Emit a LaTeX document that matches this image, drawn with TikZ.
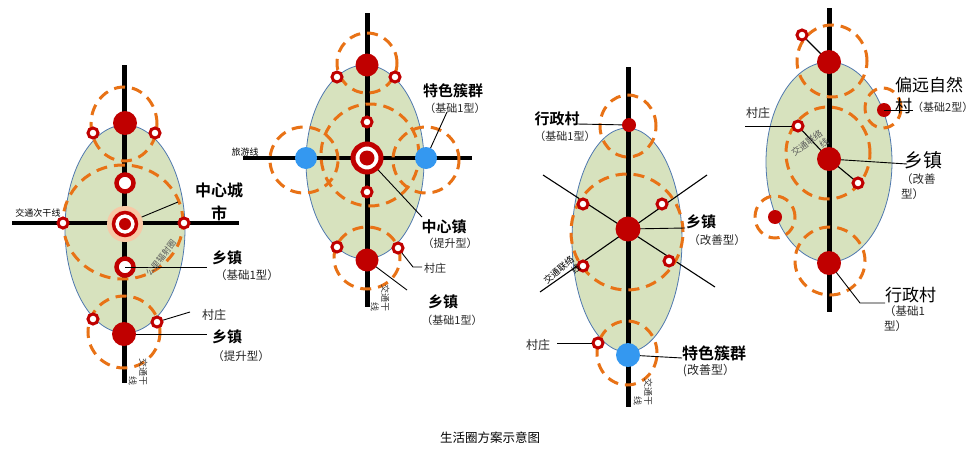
\documentclass[tikz,border=0pt]{standalone}
\usepackage{fontspec}
\setmainfont{Noto Sans CJK SC}[BoldFont={Noto Sans CJK SC Bold}]
\definecolor{cred}{RGB}{192,0,0}
\definecolor{corange}{RGB}{232,114,22}
\definecolor{cgreen}{RGB}{215,226,190}
\definecolor{cedge}{RGB}{79,120,175}
\definecolor{cblue}{RGB}{52,152,240}
\definecolor{chalo}{RGB}{248,200,165}
\definecolor{cgray}{RGB}{90,90,90}
\pgfdeclarelayer{bg}
\pgfdeclarelayer{mid}
\pgfsetlayers{bg,mid,main}
\tikzset{
  dotbig/.style={circle, fill=cred, inner sep=0pt, minimum size=24pt},
  dotsmall/.style={circle, fill=cred, inner sep=0pt, minimum size=14pt},
  ringsmall/.style={circle, draw=cred, fill=white, line width=3pt, inner sep=0pt, minimum size=10pt},
  ringbig/.style={circle, draw=cred, fill=white, line width=4.5pt, inner sep=0pt, minimum size=17pt},
  bluedot/.style={circle, fill=cblue, inner sep=0pt, minimum size=22pt},
  road/.style={line width=5pt},
  road2/.style={line width=3.5pt},
  thinroad/.style={line width=1.1pt},
  leader/.style={line width=0.9pt},
  reach/.style={draw=corange, line width=3pt, dash pattern=on 11pt off 7pt},
  zone/.style={fill=cgreen, draw=cedge, line width=0.8pt},
  lbl/.style={font=\fontsize{15}{18}\selectfont\bfseries, inner sep=0pt},
  lblreg/.style={font=\fontsize{17}{20}\selectfont, inner sep=0pt},
  sublbl/.style={font=\fontsize{11.5}{14}\selectfont, inner sep=0pt, text=black!85},
  smalltxt/.style={font=\fontsize{9}{10.5}\selectfont, inner sep=0pt},
  roadtxt/.style={font=\fontsize{9}{10.5}\selectfont, inner sep=0pt, rotate=-90, align=right, text=black!80},
}
\begin{document}
\begin{tikzpicture}[x=1pt,y=-1pt]
\useasboundingbox (0,0) rectangle (977,450);
\begin{pgfonlayer}{bg}
  \fill[white] (0,0) rectangle (977,450);
  % green zones
  \draw[zone] (125,229) ellipse [x radius=60pt, y radius=104pt];
  \draw[zone] (365,162) ellipse [x radius=59pt, y radius=97pt];
  \draw[zone] (627,240) ellipse [x radius=55pt, y radius=112pt];
  \draw[zone] (829,162) ellipse [x radius=63pt, y radius=100pt];
\end{pgfonlayer}

% ---------- road end points ----------
\coordinate (r1t) at (124,65);   \coordinate (r1b) at (124,383);
\coordinate (r1l) at (12,223);   \coordinate (r1r) at (239,223);
\coordinate (r2t) at (367,13);   \coordinate (r2b) at (367,307);
\coordinate (r2l) at (243,158);  \coordinate (r2r) at (472,158);
\coordinate (r3t) at (628,67);   \coordinate (r3b) at (628,407);
\coordinate (r3a) at (543,175);  \coordinate (r3b2) at (715,287);
\coordinate (r3c) at (540,292);  \coordinate (r3d) at (707,175);
\coordinate (r4t) at (829,8);    \coordinate (r4b) at (829,312);

% ---------- panel 1 nodes ----------
\node[dotbig]    (a1) at (125,123) {};
\node[ringsmall] (a2) at (93,133) {};
\node[ringsmall] (a3) at (155,133) {};
\node[ringbig]   (a4) at (125,183) {};
\node[circle, fill=chalo, inner sep=0pt, minimum size=36pt] (a5) at (125,224) {};
\node[circle, draw=cred, fill=white, line width=3.5pt, inner sep=0pt, minimum size=23pt] (a5r) at (125,224) {};
\node[circle, fill=cred, inner sep=0pt, minimum size=12pt] (a5c) at (125,224) {};
\node[ringsmall] (a6) at (63,223) {};
\node[ringsmall] (a7) at (184,223) {};
\node[ringbig]   (a8) at (125,267) {};
\node[ringsmall] (a9) at (93,319) {};
\node[ringsmall] (a10) at (157,322) {};
\node[dotbig]    (a11) at (124,334) {};

% ---------- panel 2 nodes ----------
\node[dotbig, minimum size=23pt] (b1) at (367,65) {};
\node[ringsmall] (b2) at (337,77) {};
\node[ringsmall] (b3) at (395,77) {};
\node[ringsmall] (b4) at (367,122) {};
\node[circle, draw=cred, fill=white, line width=5pt, inner sep=0pt, minimum size=28pt] (b5) at (367,158) {};
\node[circle, fill=cred, inner sep=0pt, minimum size=15pt] (b5c) at (367,158) {};
\node[ringsmall] (b6) at (367,192) {};
\node[bluedot]   (b7) at (306,158) {};
\node[bluedot]   (b8) at (426,158) {};
\node[ringsmall] (b9) at (337,247) {};
\node[ringsmall] (b10) at (398,248) {};
\node[dotbig, minimum size=23pt] (b11) at (367,260) {};

% ---------- panel 3 nodes ----------
\node[dotsmall]  (c1) at (629,125) {};
\node[ringsmall] (c2) at (583,204) {};
\node[ringsmall] (c3) at (662,204) {};
\node[dotbig, minimum size=25pt] (c4) at (628,229) {};
\node[ringsmall] (c5) at (583,266) {};
\node[ringsmall] (c6) at (669,261) {};
\node[ringsmall] (c7) at (598,343) {};
\node[bluedot, minimum size=24pt] (c8) at (628,355) {};

% ---------- panel 4 nodes ----------
\node[ringsmall] (d0) at (802,35) {};
\node[dotbig]    (d1) at (829,62) {};
\node[dotsmall]  (d2) at (884,110) {};
\node[ringsmall] (d3) at (798,126) {};
\node[dotbig]    (d4) at (829,159) {};
\node[ringsmall] (d5) at (858,183) {};
\node[dotsmall]  (d6) at (775,217) {};
\node[dotbig]    (d7) at (829,263) {};

% ---------- label anchor points ----------
\coordinate (la1) at (178,202);
\coordinate (la2) at (190,312);
\coordinate (la3) at (207,334);
\coordinate (lb1) at (447,112);
\coordinate (lb2) at (422,217);
\coordinate (lb3a) at (413,267); \coordinate (lb3b) at (422,267);
\coordinate (lb4) at (407,290);
\coordinate (lc1) at (577,124);
\coordinate (lc2) at (685,228);
\coordinate (lc3) at (557,343);
\coordinate (lc4) at (682,358);
\coordinate (ld1) at (913,110);
\coordinate (ld2) at (745,126);
\coordinate (ld3) at (907,164);
\coordinate (ld4a) at (860,303); \coordinate (ld4b) at (885,303);

\begin{pgfonlayer}{mid}
  % roads
  \draw[road] (r1t) -- (r1b);
  \draw[road2] (r1l) -- (r1r);
  \draw[road] (r2t) -- (r2b);
  \draw[road2] (r2l) -- (r2r);
  \draw[thinroad] (r3a) -- (r3b2);
  \draw[thinroad] (r3c) -- (r3d);
  \draw[road] (r3t) -- (r3b);
  \draw[road] (r4t) -- (r4b);
  \draw[thinroad] (d0.center) -- (d1.center);
  \draw[thinroad] (d3.center) -- (d4.center) -- (d5.center);
  % service ranges
  \draw[reach] (124,124) ellipse [x radius=33pt, y radius=37pt];
  \draw[reach] (123,222) ellipse [x radius=60pt, y radius=57pt];
  \draw[reach] (124,332) ellipse [x radius=36pt, y radius=36pt];
  \draw[reach] (367,63) ellipse [x radius=30pt, y radius=30pt];
  \draw[reach] (370,155) ellipse [x radius=49pt, y radius=51pt];
  \draw[reach] (304,160) ellipse [x radius=34pt, y radius=33pt];
  \draw[reach] (426,160) ellipse [x radius=33pt, y radius=33pt];
  \draw[reach] (367,258) ellipse [x radius=33pt, y radius=31pt];
  \draw[reach] (628,126) ellipse [x radius=28pt, y radius=31pt];
  \draw[reach] (627,232) ellipse [x radius=56pt, y radius=58pt];
  \draw[reach] (627,353) ellipse [x radius=30pt, y radius=32pt];
  \draw[reach] (832,61) ellipse [x radius=35pt, y radius=36pt];
  \draw[reach] (828,153) ellipse [x radius=42pt, y radius=46pt];
  \draw[reach] (883,108) ellipse [x radius=18pt, y radius=20pt];
  \draw[reach] (775,217) ellipse [x radius=20pt, y radius=21pt];
  \draw[reach] (830,261) ellipse [x radius=35pt, y radius=34pt];
  % leaders from dot centres
  \draw[leader] (a5.center) -- (la1);
  \draw[leader] (a11.center) -- (la3);
  \draw[leader] (b8.center) -- (lb1);
  \draw[leader] (b5.center) -- (lb2);
  \draw[leader] (b11.center) -- (lb4);
  \draw[leader] (c1.center) -- (lc1);
  \draw[leader] (c4.center) -- (lc2);
  \draw[leader] (c8.center) -- (lc4);
  \draw[leader] (d4.center) -- (ld3);
  \draw[leader] (d7.center) -- (ld4a) -- (ld4b);
\end{pgfonlayer}

% leaders drawn above nodes
\draw[leader] (a8.center) -- (207,267) coordinate (la4);
\draw[leader] (a10) -- (la2);
\draw[leader] (b10) -- (lb3a) -- (lb3b);
\draw[leader] (lc3) -- (c7);
\draw[leader] (ld2) -- (d3);
\draw[leader] (d2.center) -- (ld1);

% ---------- texts: panel 1 ----------
\node[smalltxt] (t1) at (38,213) {交通次干线};
\node[lbl, font=\fontsize{16}{23}\selectfont\bfseries, align=center] (t2) at (219,202) {中心城\\市};
\node[lbl] (t3) at (227,258) {乡镇};
\node[sublbl] (t4) at (247,275) {（基础1型）};
\node[sublbl, font=\fontsize{12}{14}\selectfont] (t5) at (214,315) {村庄};
\node[lbl] (t6) at (227,337) {乡镇};
\node[sublbl] (t7) at (241,356) {（提升型）};
\node[smalltxt, font=\fontsize{8.5}{10}\selectfont, rotate=52, text=cgray] (t8) at (161,258) {公里辐射圈};
\node[roadtxt] (t9) at (138,372) {交通干\\线};

% ---------- texts: panel 2 ----------
\node[smalltxt] (u1) at (245,152) {旅游线};
\node[lbl] (u2) at (453,91) {特色簇群};
\node[sublbl, font=\fontsize{11}{13}\selectfont] (u3) at (455,108) {（基础1型）};
\node[lbl] (u4) at (444,227) {中心镇};
\node[sublbl, font=\fontsize{11}{13}\selectfont] (u5) at (450,243) {（提升型）};
\node[sublbl, font=\fontsize{11}{13}\selectfont] (u6) at (435,268) {村庄};
\node[lbl] (u7) at (443,302) {乡镇};
\node[sublbl, font=\fontsize{11}{13}\selectfont] (u8) at (452,320) {（基础1型）};
\node[roadtxt] (u9) at (380,298) {交通干\\线};

% ---------- texts: panel 3 ----------
\node[lbl] (v1) at (557,119) {行政村};
\node[sublbl, font=\fontsize{11}{13}\selectfont] (v2) at (565,136) {（基础1型）};
\node[lbl] (v3) at (701,222) {乡镇};
\node[sublbl] (v4) at (717,240) {（改善型）};
\node[sublbl, font=\fontsize{12}{14}\selectfont] (v5) at (538,345) {村庄};
\node[lbl, font=\fontsize{16}{19}\selectfont\bfseries] (v6) at (714,353) {特色簇群};
\node[sublbl, font=\fontsize{12}{14}\selectfont] (v7) at (709,371) {(改善型）};
\node[smalltxt, rotate=40, align=right] (v8) at (562,274) {交通联络\\线};
\node[roadtxt] (v9) at (643,392) {交通干\\线};

% ---------- texts: panel 4 ----------
\node[lblreg, anchor=west] (w1) at (895,85) {偏远自然};
\node[lblreg, anchor=west] (w2) at (895,106) {村};
\node[sublbl, font=\fontsize{11}{13}\selectfont, anchor=west] (w3) at (912,107) {（基础2型）};
\node[sublbl, font=\fontsize{12}{14}\selectfont] (w4) at (758,113) {村庄};
\node[lblreg, font=\fontsize{19}{22}\selectfont, anchor=west] (w5) at (904,160) {乡镇};
\node[sublbl, align=left, anchor=north west, font=\fontsize{11.5}{15}\selectfont] (w6) at (901,173) {（改善\\型）};
\node[lblreg, anchor=west] (w7) at (885,295) {行政村};
\node[sublbl, align=left, anchor=north west, font=\fontsize{11.5}{15}\selectfont] (w8) at (884,305) {（基础1\\型）};
\node[smalltxt, rotate=37, text=cgray, align=right] (w9) at (810,147) {交通联络\\线};

% caption
\node[font=\fontsize{12.5}{15}\selectfont, inner sep=0pt] (cap) at (490,438) {生活圈方案示意图};
\end{tikzpicture}
\end{document}
